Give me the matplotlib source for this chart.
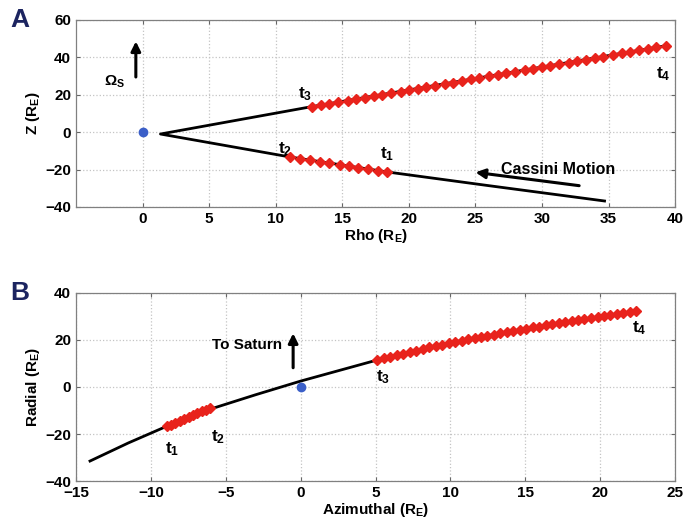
import numpy as np
import matplotlib
matplotlib.use("Agg")
import matplotlib.pyplot as plt

plt.rcParams['font.family'] = ['Liberation Sans', 'DejaVu Sans']
plt.rcParams['font.weight'] = 'bold'
plt.rcParams['axes.labelweight'] = 'bold'
plt.rcParams['mathtext.fontset'] = 'custom'
plt.rcParams['mathtext.rm'] = 'Liberation Sans:bold'
plt.rcParams['mathtext.it'] = 'Liberation Sans:bold'
plt.rcParams['mathtext.bf'] = 'Liberation Sans:bold'
plt.rcParams['mathtext.default'] = 'bf'

# ── Panel A: meridional view (Rho, Z) ─────────────────────────────────────────
a_track_x = [34.7, 26.0, 18.4, 11.1, 1.35, 12.6, 25.0, 39.3]
a_track_y = [-36.8, -28.6, -21.3, -13.3, -1.0, 13.5, 28.7, 46.2]

a_in_x = [11.1, 11.8, 12.6, 13.3, 14.0, 14.8, 15.5, 16.2, 16.9, 17.7, 18.4]
a_in_y = [-13.3, -14.1, -14.9, -15.7, -16.5, -17.3, -18.1, -18.9, -19.7, -20.5, -21.3]

a_out_x = [12.7, 13.4, 14.0, 14.7, 15.4, 16.0, 16.7, 17.4, 18.0, 18.7, 19.4,
           20.0, 20.7, 21.3, 22.0, 22.7, 23.3, 24.0, 24.7, 25.3, 26.0, 26.7,
           27.3, 28.0, 28.7, 29.3, 30.0, 30.6, 31.3, 32.0, 32.6, 33.3, 34.0,
           34.6, 35.3, 36.0, 36.6, 37.3, 38.0, 38.6, 39.3]
a_out_y = [13.5, 14.4, 15.1, 16.0, 16.8, 17.6, 18.4, 19.3, 20.0, 20.9, 21.7,
           22.5, 23.3, 24.1, 24.9, 25.8, 26.5, 27.4, 28.3, 29.0, 29.9, 30.7,
           31.5, 32.3, 33.2, 33.9, 34.8, 35.5, 36.4, 37.2, 37.9, 38.8, 39.7,
           40.4, 41.3, 42.1, 42.8, 43.7, 44.6, 45.4, 46.2]

# ── Panel B: equatorial view (Azimuthal, Radial) ──────────────────────────────
b_track_x = [-14.06, -11.5, -8.9, -5.97, -3.0, 0.0, 5.13, 10.0, 15.0, 22.4]
b_track_y = [-31.5, -23.8, -16.6, -9.3, -3.3, 2.5, 11.5, 18.8, 24.8, 32.1]

b_in_x = [-8.95, -8.66, -8.36, -8.07, -7.78, -7.48, -7.19, -6.90, -6.60, -6.31, -6.02]
b_in_y = [-16.8, -16.0, -15.2, -14.4, -13.6, -12.8, -12.0, -11.2, -10.4, -9.7, -9.0]

b_out_x = [5.13, 5.56, 6.0, 6.43, 6.86, 7.29, 7.72, 8.15, 8.59, 9.02, 9.45,
           9.88, 10.31, 10.75, 11.18, 11.61, 12.04, 12.47, 12.91, 13.34, 13.77,
           14.2, 14.63, 15.07, 15.5, 15.93, 16.36, 16.79, 17.22, 17.66, 18.09,
           18.52, 18.95, 19.38, 19.82, 20.25, 20.68, 21.11, 21.54, 21.97, 22.4]
b_out_y = [11.5, 12.2, 12.9, 13.6, 14.2, 14.9, 15.5, 16.1, 16.8, 17.4, 18.0,
           18.5, 19.1, 19.6, 20.2, 20.7, 21.2, 21.7, 22.3, 22.8, 23.3,
           23.8, 24.3, 24.8, 25.3, 25.7, 26.2, 26.6, 27.1, 27.5, 28.0,
           28.4, 28.8, 29.2, 29.7, 30.1, 30.5, 30.9, 31.3, 31.7, 32.1]

RED   = '#e8231c'
BLUE  = '#3b5fc8'
NAVY  = '#1c2460'
FS    = 11
TS    = 12.5   # t labels
ARROW = dict(arrowstyle='-|>', color='black', lw=2.2, mutation_scale=14)

def style_axes(ax):
    ax.grid(True, color='#c4c4c4', linestyle=':', linewidth=0.9)
    ax.tick_params(direction='in', top=True, right=True, labelsize=FS,
                   length=3, color='#666666')
    for s in ax.spines.values():
        s.set_color('#808080')
        s.set_linewidth(0.9)

fig = plt.figure(figsize=(6.84, 5.24), dpi=100)

# ── A ─────────────────────────────────────────────────────────────────────────
ax = fig.add_axes([0.111, 0.605, 0.876, 0.357])
ax.plot(a_track_x, a_track_y, color='black', linewidth=2, zorder=3)
ax.plot(a_in_x, a_in_y, linestyle='none', marker='D', markersize=5.5,
        color=RED, markeredgecolor=RED, zorder=4)
ax.plot(a_out_x, a_out_y, linestyle='none', marker='D', markersize=5.5,
        color=RED, markeredgecolor=RED, zorder=4)
ax.plot([0], [0], 'o', color=BLUE, markersize=6, zorder=4)
ax.set_xlim(-5, 40)
ax.set_ylim(-40, 60)
ax.set_xticks(np.arange(0, 41, 5))
ax.set_yticks(np.arange(-40, 61, 20))
ax.set_xlabel("Rho (R$_E$)", fontsize=FS, labelpad=1)
ax.set_ylabel("Z (R$_E$)", fontsize=FS, labelpad=2)
style_axes(ax)

ax.annotate("", xy=(-0.5, 50), xytext=(-0.5, 28), arrowprops=ARROW)
ax.text(-2.1, 27, r"$\Omega_S$", fontsize=FS, ha='center', va='center')
ax.annotate("", xy=(24.8, -21.3), xytext=(33.0, -28.8), arrowprops=ARROW)
ax.text(31.2, -20.2, "Cassini Motion", fontsize=FS + 0.5, ha='center', va='center')
ax.text(12.2, 20.5, "t$_3$", fontsize=TS, ha='center', va='center')
ax.text(10.7, -9, "t$_2$", fontsize=TS, ha='center', va='center')
ax.text(18.4, -12, "t$_1$", fontsize=TS, ha='center', va='center')
ax.text(39.1, 31, "t$_4$", fontsize=TS, ha='center', va='center')
fig.text(0.015, 0.962, "A", fontsize=19, color=NAVY, fontweight='bold', va='center')

# ── B ─────────────────────────────────────────────────────────────────────────
bx = fig.add_axes([0.111, 0.082, 0.876, 0.359])
bx.plot(b_track_x, b_track_y, color='black', linewidth=2, zorder=3)
bx.plot(b_in_x, b_in_y, linestyle='none', marker='D', markersize=5.5,
        color=RED, markeredgecolor=RED, zorder=4)
bx.plot(b_out_x, b_out_y, linestyle='none', marker='D', markersize=5.5,
        color=RED, markeredgecolor=RED, zorder=4)
bx.plot([0], [0], 'o', color=BLUE, markersize=6, zorder=4)
bx.set_xlim(-15, 25)
bx.set_ylim(-40, 40)
bx.set_xticks(np.arange(-15, 26, 5))
bx.set_yticks(np.arange(-40, 41, 20))
bx.set_xlabel("Azimuthal (R$_E$)", fontsize=FS, labelpad=1)
bx.set_ylabel("Radial (R$_E$)", fontsize=FS, labelpad=2)
style_axes(bx)

bx.annotate("", xy=(-0.5, 24), xytext=(-0.5, 7), arrowprops=ARROW)
bx.text(-3.6, 18, "To Saturn", fontsize=FS, ha='center', va='center')
bx.text(-8.6, -26.5, "t$_1$", fontsize=TS, ha='center', va='center')
bx.text(-5.5, -21.5, "t$_2$", fontsize=TS, ha='center', va='center')
bx.text(5.5, 4, "t$_3$", fontsize=TS, ha='center', va='center')
bx.text(22.6, 25, "t$_4$", fontsize=TS, ha='center', va='center')
fig.text(0.015, 0.441, "B", fontsize=19, color=NAVY, fontweight='bold', va='center')

fig.savefig("out.png", dpi=100)
